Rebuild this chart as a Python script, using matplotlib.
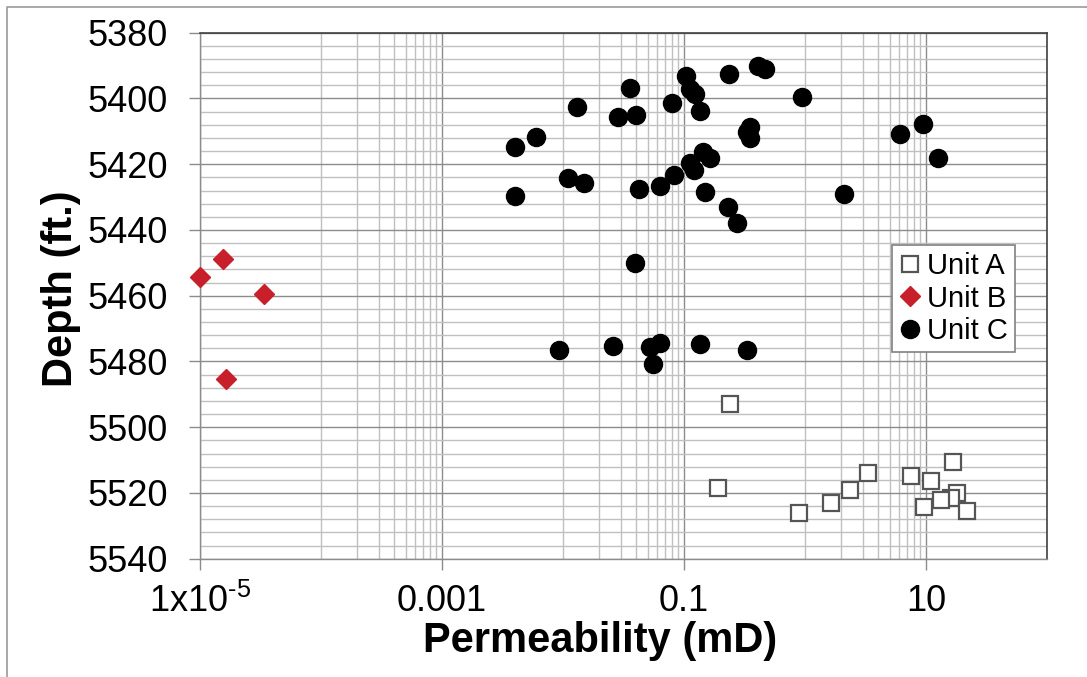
import matplotlib
matplotlib.use("Agg")
import matplotlib.pyplot as plt
import matplotlib.ticker as mticker
from matplotlib.lines import Line2D
import numpy as np

plt.rcParams['font.family'] = ['Liberation Sans', 'DejaVu Sans']
plt.rcParams['mathtext.fontset'] = 'custom'
plt.rcParams['mathtext.rm'] = 'Liberation Sans'

# Unit A - open squares
perm_a = [0.242, 0.191, 0.889, 1.63, 2.35, 3.33, 7.55, 11.1, 16.8, 17.9, 16.0, 13.2, 9.61, 21.7]
depth_a = [5493.0, 5518.5, 5526.1, 5523.2, 5519.1, 5514.0, 5514.9, 5516.3, 5510.7, 5520.1,
           5521.6, 5522.2, 5524.2, 5525.4]

# Unit B - red diamonds
perm_b = [1.0e-5, 1.54e-5, 3.40e-5, 1.64e-5]
depth_b = [5454.2, 5448.8, 5459.5, 5485.4]

# Unit C - black circles
perm_c = [0.104, 0.237, 0.407, 0.471, 0.0361, 0.1114, 0.1225, 0.948, 0.01306, 0.0798,
          0.1349, 0.0283, 0.0404, 0.00601, 0.00403, 0.349, 0.333, 0.354, 0.144, 0.165,
          0.113, 0.120, 0.0834, 0.0109, 0.0150, 0.0630, 0.0422, 0.00403, 0.150, 0.232,
          0.275, 0.0396, 6.08, 9.50, 12.5, 2.09, 0.0092, 0.0259, 0.0527, 0.0638,
          0.0551, 0.1349, 0.333]
depth_c = [5393.2, 5392.7, 5390.1, 5391.1, 5396.7, 5397.2, 5398.6, 5399.5, 5402.5, 5401.3,
           5403.8, 5405.6, 5405.0, 5411.6, 5414.7, 5408.6, 5410.1, 5412.1, 5416.2, 5418.2,
           5419.7, 5421.8, 5423.3, 5424.3, 5425.6, 5426.5, 5427.6, 5429.7, 5428.4, 5432.9,
           5437.8, 5450.0, 5410.9, 5407.9, 5418.0, 5429.2, 5476.5, 5475.2, 5475.5, 5474.5,
           5480.9, 5474.8, 5476.5]

x_ticks = [1e-5, 1e-3, 1e-1, 10]
x_labels = ['1x10$^{\\mathregular{\u20105}}$', '0.001', '0.1', '10']

fig = plt.figure(figsize=(10.87, 6.77), dpi=100)
ax = fig.add_axes([200/1087, 1 - 558.7/677, 847/1087, 526/677])

ax.plot(perm_a, depth_a, 's', ms=11, mfc='white', mec='#555555', mew=1.6, label='Unit A',
        zorder=3, clip_on=False)
ax.plot(perm_b, depth_b, 'D', ms=10, color='#c8202a', mec='#c8202a', label='Unit B',
        zorder=3, clip_on=False)
ax.plot(perm_c, depth_c, 'o', ms=13, color='black', label='Unit C', zorder=4, clip_on=False)

ax.set_xscale('log')
ax.set_xlim(1e-5, 100)
ax.set_ylim(5540, 5380)

# excel style log grid: major every 2 decades, minor at k*10^(n+1)
minors = [k * 10.0**(e + 1) for e in (-5, -3, -1, 1) for k in range(1, 10)]
minors = [m for m in minors if m <= 100]
ax.xaxis.set_major_locator(mticker.FixedLocator(x_ticks))
ax.xaxis.set_major_formatter(mticker.FixedFormatter(x_labels))
ax.xaxis.set_minor_locator(mticker.FixedLocator(minors))
ax.xaxis.set_minor_formatter(mticker.NullFormatter())
ax.yaxis.set_major_locator(mticker.MultipleLocator(20))
ax.yaxis.set_minor_locator(mticker.MultipleLocator(4))

ax.grid(which='major', color='#8c8c8c', lw=1.0, zorder=0)
ax.grid(which='minor', color='#c0c0c0', lw=1.0, zorder=0)
ax.set_axisbelow(True)

ax.tick_params(which='major', length=8, width=1.0, color='#8c8c8c', labelsize=26, pad=15)
ax.tick_params(axis='x', which='major', pad=10)
ax.tick_params(which='minor', length=0)

for s in ['left', 'bottom']:
    ax.spines[s].set_color('#8c8c8c')
    ax.spines[s].set_linewidth(1.0)
for s in ['top', 'right']:
    ax.spines[s].set_color('#404040')
    ax.spines[s].set_linewidth(1.2)

ax.set_xlabel('Permeability (mD)', fontsize=30, fontweight='bold')
ax.set_ylabel('Depth (ft.)', fontsize=30, fontweight='bold')
ax.xaxis.set_label_coords(0.472, -0.119)
ax.yaxis.set_label_coords(-0.14, 0.513)

leg = ax.legend(loc='upper left', bbox_to_anchor=(892/1087, 1 - 245/677),
                bbox_transform=fig.transFigure, fontsize=21, frameon=True, fancybox=False,
                framealpha=1, edgecolor='#808080', handlelength=0.7, handletextpad=0.25,
                borderpad=0.25, labelspacing=0.15, borderaxespad=0)
leg.get_frame().set_linewidth(1.2)

# outer frame of the picture
fig.add_artist(Line2D([7/1087, 7/1087, 1], [0, 1 - 7/677, 1 - 7/677],
                      transform=fig.transFigure, color='#9a9a9a', lw=1.2))

fig.savefig('out.png', dpi=100)
